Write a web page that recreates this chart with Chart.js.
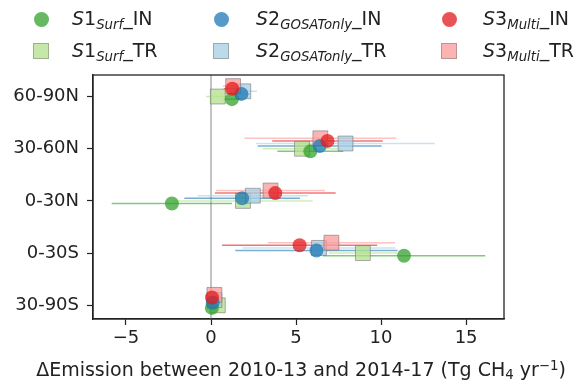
<!DOCTYPE html>
<html>
<head>
<meta charset="utf-8">
<script src="https://cdn.jsdelivr.net/npm/chart.js@4.4.0/dist/chart.umd.min.js"></script>
<style>
  body { margin: 0; background: #fff; }
  #wrap { position: relative; width: 576px; height: 386px; font-family: "DejaVu Sans", sans-serif; color: #222; }
  #c { position: absolute; left: 0; top: 0; }
  .lbl { position: absolute; font-size: 19px; line-height: 20px; white-space: nowrap; }
  .lbl sub { font-size: 0.7em; vertical-align: -0.28em; line-height: 0; }
  .mk { position: absolute; box-sizing: border-box; }
  #xlab { position: absolute; left: 0; width: 602px; top: 358px; text-align: center; font-size: 19px; line-height: 22px; white-space: nowrap; color: #222; }
  #xlab sub { font-size: 0.7em; vertical-align: -0.25em; line-height: 0; }
  #xlab sup { font-size: 0.7em; vertical-align: 0.45em; line-height: 0; }
</style>
</head>
<body>
<div id="wrap">
  <canvas id="c" width="576" height="386"></canvas>
  <div id="xlab">&Delta;Emission between 2010-13 and 2014-17 (Tg CH<sub>4</sub> yr<sup>&minus;1</sup>)</div>
</div>
<script>
// regions, bottom (y = 0) to top (y = 4)
var regions = ['30-90S', '0-30S', '0-30N', '30-60N', '60-90N'];
var xTicks = [-5, 0, 5, 10, 15];

// emission change (Tg CH4/yr) and error half-width per region
var s1In  = [0.05, 11.35, -2.30, 5.84, 1.23];
var s1InErr = [0.3, 4.78, 3.54, 1.94, 0.5];
var s1Tr  = [0.40, 8.93, 1.88, 5.35, 0.40];
var s1TrErr = [0.3, 2.0, 4.1, 2.3, 0.7];
var s2In  = [0.10, 6.20, 1.83, 6.39, 1.79];
var s2InErr = [0.3, 4.77, 3.4, 3.64, 0.5];
var s2Tr  = [0.20, 6.35, 2.46, 7.91, 1.90];
var s2TrErr = [0.3, 4.5, 3.25, 5.25, 0.8];
var s3In  = [0.06, 5.21, 3.78, 6.85, 1.25];
var s3InErr = [0.3, 4.56, 3.55, 3.25, 0.5];
var s3Tr  = [0.20, 7.08, 3.50, 6.43, 1.30];
var s3TrErr = [0.3, 3.74, 3.2, 4.46, 0.6];

var series = [
  { base: 'S1', sub: 'Surf', suf: '_IN', vals: s1In, errs: s1InErr, off: -0.05, rgb: '51,160,44', shape: 'circle', order: 2 },
  { base: 'S2', sub: 'GOSATonly', suf: '_IN', vals: s2In, errs: s2InErr, off: 0.05, rgb: '31,120,180', shape: 'circle', order: 1 },
  { base: 'S3', sub: 'Multi', suf: '_IN', vals: s3In, errs: s3InErr, off: 0.15, rgb: '227,26,28', shape: 'circle', order: 0 },
  { base: 'S1', sub: 'Surf', suf: '_TR', vals: s1Tr, errs: s1TrErr, off: 0, rgb: '178,223,138', shape: 'rect', order: 5 },
  { base: 'S2', sub: 'GOSATonly', suf: '_TR', vals: s2Tr, errs: s2TrErr, off: 0.1, rgb: '166,206,227', shape: 'rect', order: 4 },
  { base: 'S3', sub: 'Multi', suf: '_TR', vals: s3Tr, errs: s3TrErr, off: 0.2, rgb: '251,154,153', shape: 'rect', order: 3 }
];

var datasets = series.map(function(s) {
  return {
    label: s.base + s.sub + s.suf,
    data: s.vals.map(function(v, i) { return { x: v, y: i + s.off }; }),
    errs: s.errs,
    errColor: 'rgba(' + s.rgb + ',0.6)',
    pointStyle: s.shape,
    pointRadius: s.shape == 'rect' ? 10.5 : 7,
    backgroundColor: 'rgba(' + s.rgb + ',0.75)',
    borderColor: s.shape == 'rect' ? 'rgba(110,110,110,0.55)' : 'rgba(0,0,0,0)',
    borderWidth: s.shape == 'rect' ? 1 : 0,
    order: s.order
  };
});

// zero line, error bars and the closed frame
var extras = {
  id: 'extras',
  beforeDatasetsDraw: function(chart) {
    var ctx = chart.ctx, xs = chart.scales.x, ys = chart.scales.y, area = chart.chartArea;
    ctx.save();
    var x0 = xs.getPixelForValue(0);
    ctx.strokeStyle = '#b0b0b0';
    ctx.lineWidth = 1.5;
    ctx.beginPath();
    ctx.moveTo(x0, area.top);
    ctx.lineTo(x0, area.bottom);
    ctx.stroke();
    chart.data.datasets.forEach(function(ds) {
      ctx.strokeStyle = ds.errColor;
      ctx.lineWidth = 1.5;
      ds.data.forEach(function(p, i) {
        var y = ys.getPixelForValue(p.y);
        ctx.beginPath();
        ctx.moveTo(xs.getPixelForValue(p.x - ds.errs[i]), y);
        ctx.lineTo(xs.getPixelForValue(p.x + ds.errs[i]), y);
        ctx.stroke();
      });
    });
    ctx.restore();
  },
  afterDraw: function(chart) {
    var ctx = chart.ctx, a = chart.chartArea;
    ctx.save();
    ctx.strokeStyle = '#222';
    ctx.lineWidth = 1.3;
    ctx.strokeRect(a.left, a.top, a.right - a.left, a.bottom - a.top);
    ctx.restore();
  }
};

var tickFont = { family: 'DejaVu Sans', size: 18 };

new Chart(document.getElementById('c'), {
  type: 'scatter',
  data: { datasets: datasets },
  options: {
    responsive: false,
    animation: false,
    layout: { padding: { top: 75, right: 72, left: 0, bottom: 0 } },
    plugins: { legend: { display: false }, tooltip: { enabled: false } },
    scales: {
      x: {
        type: 'linear',
        min: -6.94,
        max: 17.23,
        afterBuildTicks: function(s) { s.ticks = xTicks.map(function(v) { return { value: v }; }); },
        afterFit: function(s) { s.height = 67; },
        grid: { drawOnChartArea: false, drawTicks: true, tickLength: 6, tickColor: '#222', tickWidth: 1.2 },
        border: { display: true, color: '#222', width: 1.3 },
        ticks: {
          font: tickFont, color: '#222', padding: 3, maxRotation: 0,
          callback: function(v) { return v < 0 ? '\u2212' + Math.abs(v) : '' + v; }
        }
      },
      y: {
        type: 'linear',
        min: -0.2625,
        max: 4.4125,
        afterBuildTicks: function(s) { s.ticks = regions.map(function(r, i) { return { value: i }; }); },
        afterFit: function(s) { s.width = 93; },
        grid: { drawOnChartArea: false, drawTicks: true, tickLength: 6, tickColor: '#222', tickWidth: 1.2 },
        border: { display: true, color: '#222', width: 1.3 },
        ticks: {
          font: tickFont, color: '#222', padding: 8,
          callback: function(v) { return regions[v]; }
        }
      }
    }
  },
  plugins: [extras]
});

// legend: 3 columns x 2 rows, markers + mathtext-like labels
var wrap = document.getElementById('wrap');
var colMarkX = [41, 221, 449];
var colTextX = [72, 256, 483];
var rowY = [19, 51];
series.forEach(function(s, k) {
  var col = k % 3, row = Math.floor(k / 3);
  var mk = document.createElement('div');
  mk.className = 'mk';
  var size = s.shape == 'rect' ? 16 : 15;
  mk.style.width = size + 'px';
  mk.style.height = size + 'px';
  mk.style.left = (colMarkX[col] - size / 2) + 'px';
  mk.style.top = (rowY[row] - size / 2) + 'px';
  mk.style.background = 'rgba(' + s.rgb + ',0.75)';
  if (s.shape == 'circle') mk.style.borderRadius = '50%';
  else mk.style.border = '1px solid rgba(110,110,110,0.45)';
  wrap.appendChild(mk);

  var lb = document.createElement('div');
  lb.className = 'lbl';
  lb.style.left = colTextX[col] + 'px';
  lb.style.top = (rowY[row] - 11) + 'px';
  lb.innerHTML = '<i>' + s.base.charAt(0) + '</i>' + s.base.slice(1) +
    '<sub><i>' + s.sub + '</i></sub>' + s.suf;
  wrap.appendChild(lb);
});
</script>
</body>
</html>
